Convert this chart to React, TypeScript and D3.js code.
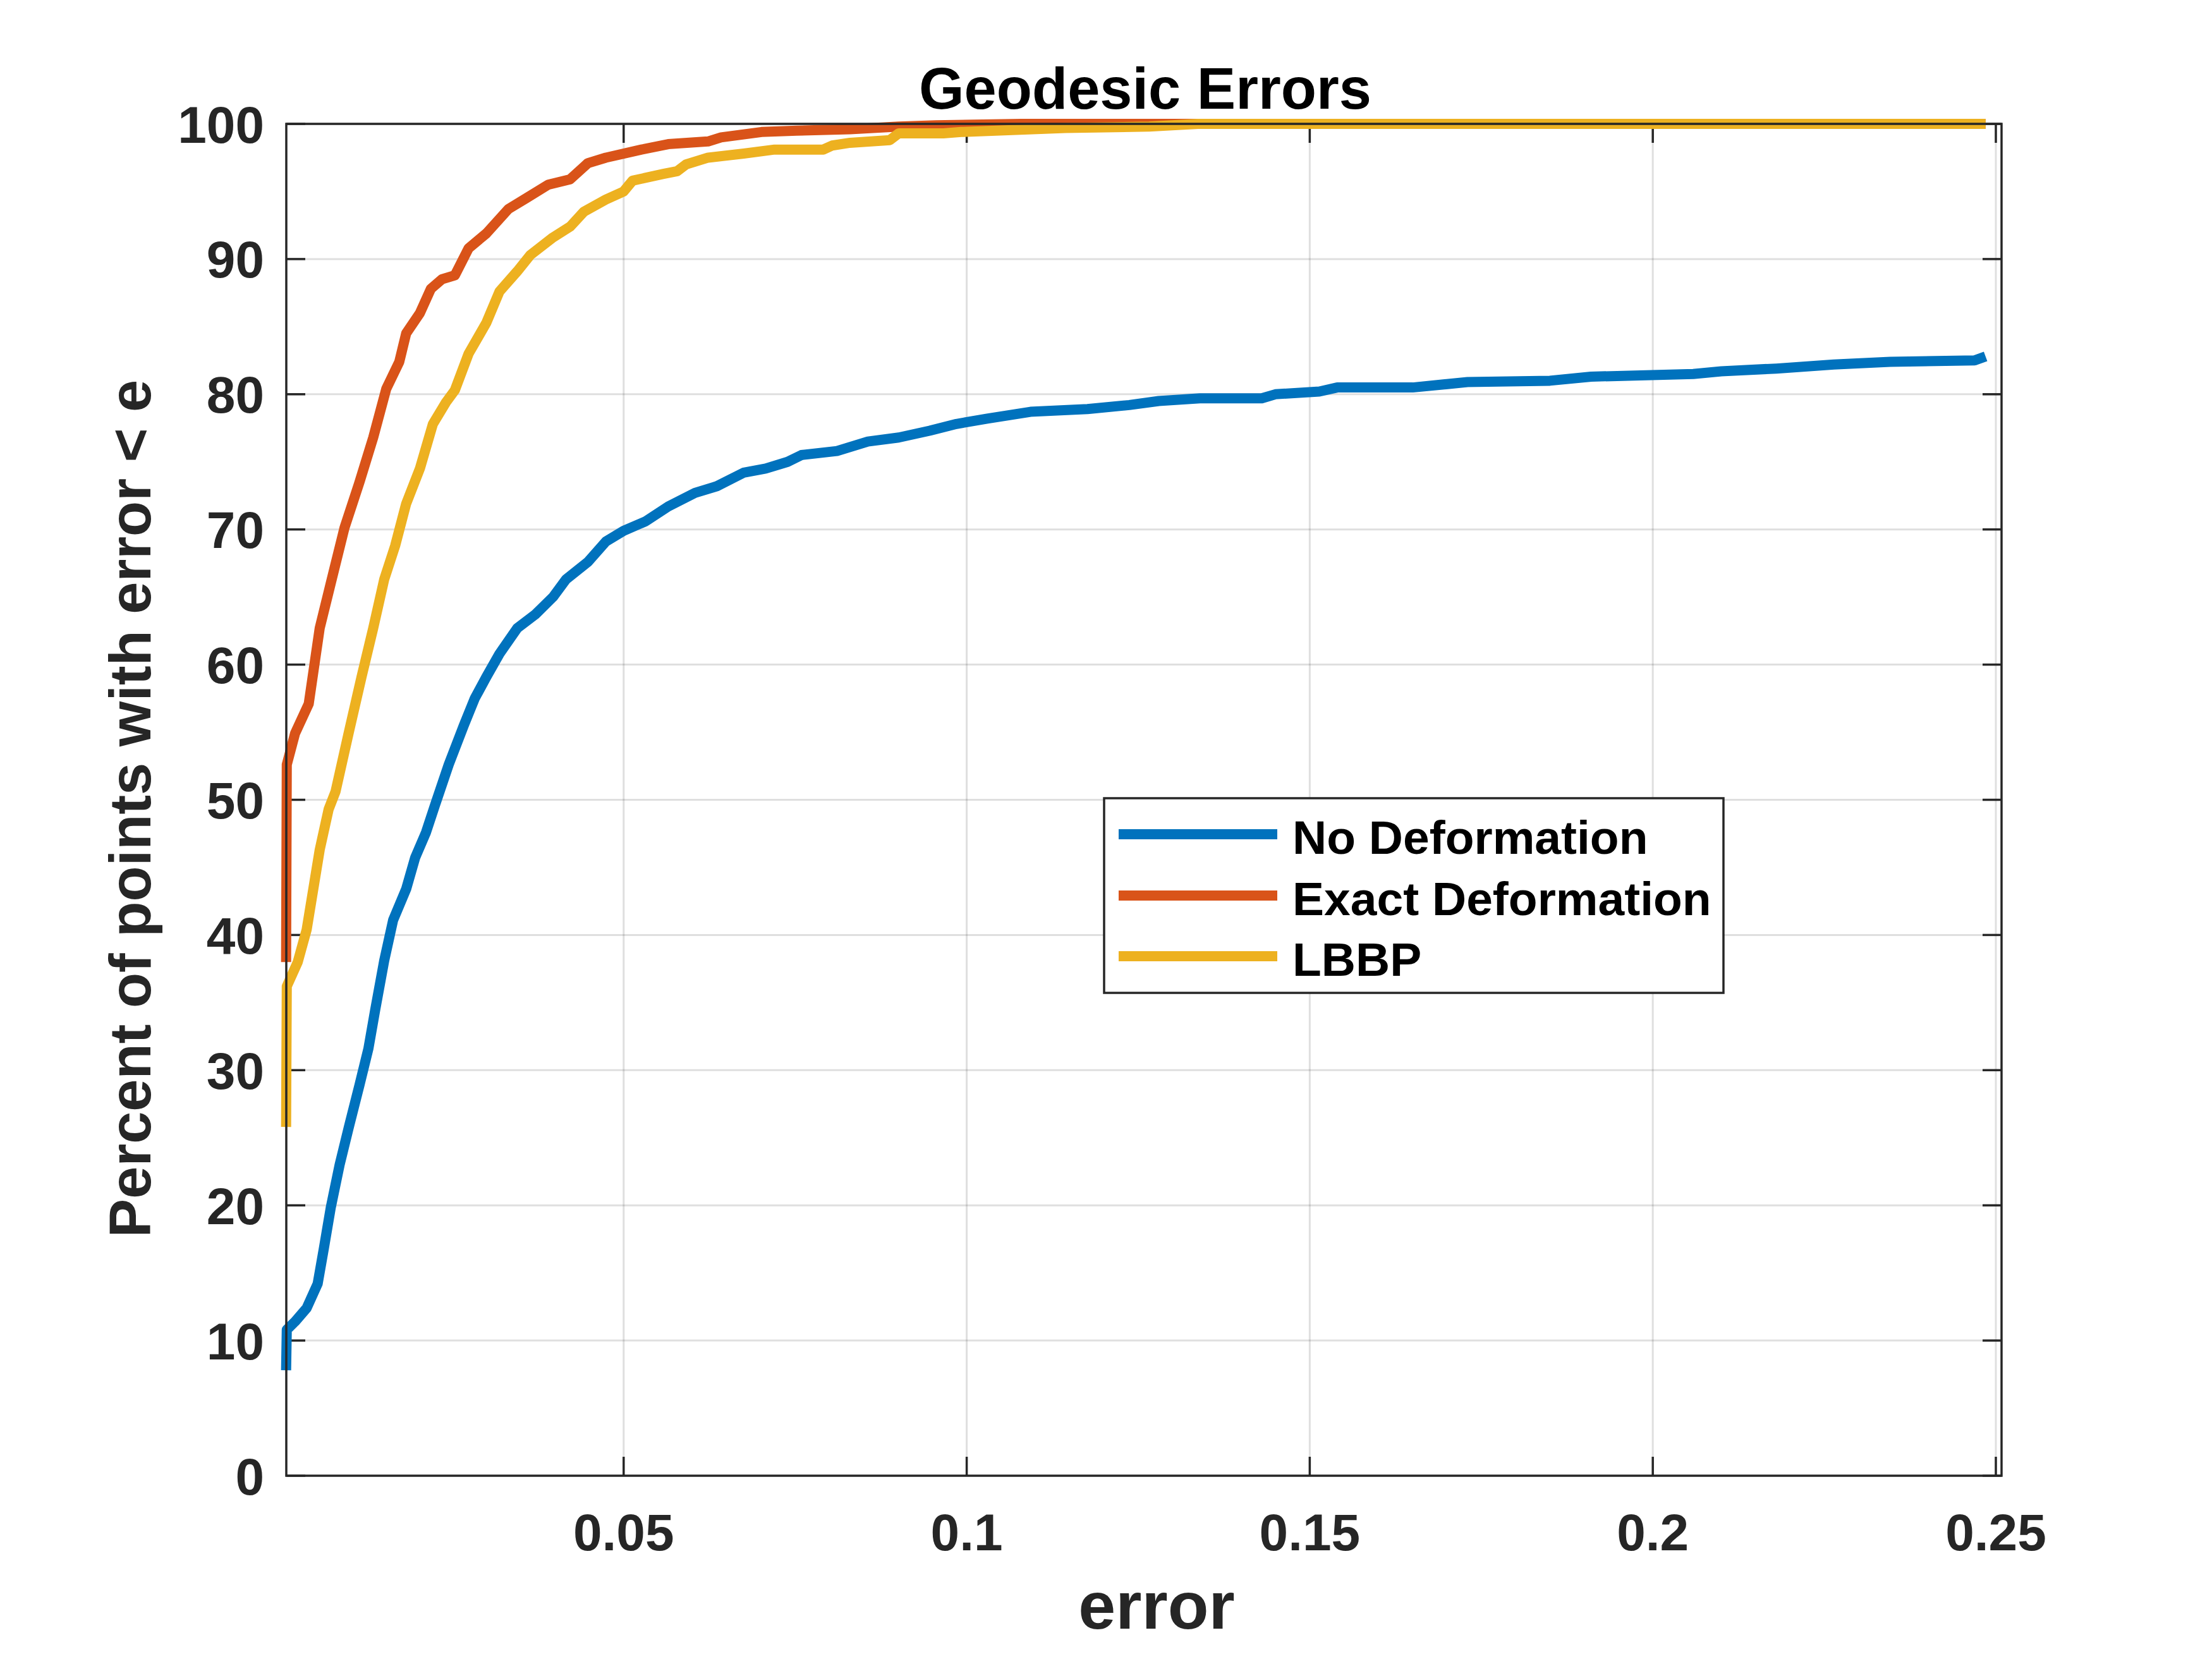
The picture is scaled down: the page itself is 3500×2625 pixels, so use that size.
import React, { useEffect } from 'react';
import * as d3 from 'd3';

// No Deformation
const noDefErr = [0.0008, 0.0009, 0.0021, 0.0038, 0.0054, 0.0063, 0.0073, 0.0086, 0.0099, 0.0115, 0.0128, 0.0138, 0.0151, 0.0164, 0.0183, 0.0196, 0.0212, 0.0225, 0.0245, 0.0267, 0.0283, 0.0300, 0.0319, 0.0345, 0.0371, 0.0397, 0.0416, 0.0448, 0.0474, 0.0500, 0.0532, 0.0565, 0.0604, 0.0636, 0.0675, 0.0707, 0.0739, 0.0759, 0.0811, 0.0856, 0.0901, 0.0946, 0.0985, 0.1030, 0.1093, 0.1176, 0.1237, 0.1280, 0.1340, 0.1430, 0.1450, 0.1514, 0.1540, 0.1650, 0.1730, 0.1850, 0.1910, 0.2059, 0.2100, 0.2180, 0.2264, 0.2346, 0.2469, 0.2485];
const noDefPct = [7.8, 10.8, 11.4, 12.4, 14.2, 16.8, 19.8, 23.0, 25.7, 28.9, 31.6, 34.5, 38.1, 41.1, 43.4, 45.7, 47.6, 49.6, 52.6, 55.5, 57.5, 59.1, 60.8, 62.7, 63.7, 65.0, 66.3, 67.6, 69.1, 69.9, 70.6, 71.7, 72.7, 73.2, 74.2, 74.5, 75.0, 75.5, 75.8, 76.5, 76.8, 77.3, 77.8, 78.2, 78.7, 78.9, 79.2, 79.5, 79.7, 79.7, 80.0, 80.2, 80.5, 80.5, 80.9, 81.0, 81.3, 81.5, 81.7, 81.9, 82.2, 82.4, 82.5, 82.8];

// Exact Deformation
const exactErr = [0.0008, 0.0009, 0.0021, 0.0041, 0.0057, 0.0073, 0.0093, 0.0115, 0.0135, 0.0154, 0.0173, 0.0183, 0.0203, 0.0219, 0.0235, 0.0254, 0.0274, 0.0300, 0.0332, 0.0358, 0.0390, 0.0422, 0.0448, 0.0474, 0.0526, 0.0565, 0.0623, 0.0642, 0.0701, 0.0752, 0.0830, 0.0901, 0.0955, 0.1080, 0.2485];
const exactPct = [38.0, 52.6, 54.9, 57.1, 62.7, 66.0, 70.1, 73.5, 76.8, 80.4, 82.4, 84.5, 86.0, 87.8, 88.5, 88.8, 90.8, 91.9, 93.7, 94.5, 95.5, 95.9, 97.1, 97.5, 98.1, 98.5, 98.7, 99.0, 99.4, 99.5, 99.6, 99.8, 99.9, 100, 100];

// LBBP
const lbbpErr = [0.0008, 0.0009, 0.0025, 0.0038, 0.0057, 0.0070, 0.0080, 0.0099, 0.0118, 0.0135, 0.0151, 0.0167, 0.0183, 0.0203, 0.0222, 0.0241, 0.0254, 0.0274, 0.0300, 0.0319, 0.0345, 0.0364, 0.0397, 0.0422, 0.0442, 0.0474, 0.0500, 0.0513, 0.0558, 0.0578, 0.0591, 0.0623, 0.0675, 0.0720, 0.0791, 0.0804, 0.0830, 0.0888, 0.0901, 0.0966, 0.0992, 0.1144, 0.1266, 0.1337, 0.2485];
const lbbpPct = [25.8, 36.2, 38.0, 40.4, 46.3, 49.3, 50.6, 54.9, 59.1, 62.7, 66.3, 68.8, 71.9, 74.5, 77.8, 79.4, 80.3, 83.0, 85.3, 87.6, 89.1, 90.3, 91.6, 92.4, 93.5, 94.4, 95.0, 95.8, 96.3, 96.5, 97.0, 97.5, 97.8, 98.1, 98.1, 98.4, 98.6, 98.8, 99.3, 99.3, 99.4, 99.7, 99.8, 100, 100];

const seriesNames = ['No Deformation', 'Exact Deformation', 'LBBP'];
const seriesColors = ['#0072BD', '#D95319', '#EDB120'];
const xTicks = [0.05, 0.1, 0.15, 0.2, 0.25];
const xTickLabels = ['0.05', '0.1', '0.15', '0.2', '0.25'];
const yTicks = [0, 10, 20, 30, 40, 50, 60, 70, 80, 90, 100];

const W = 3500;
const H = 2625;
const axL = 453, axR = 3167, axT = 196, axB = 2335;
const font = '"Liberation Sans", Arial, Helvetica, sans-serif';
const ink = '#262626';

export default function App() {
  useEffect(() => {
    document.body.style.margin = '0';
  }, []);

  const x = d3.scaleLinear().domain([0.00083, 0.25083]).range([axL, axR]);
  const y = d3.scaleLinear().domain([0, 100]).range([axB, axT]);

  const series = [
    { err: noDefErr, pct: noDefPct },
    { err: exactErr, pct: exactPct },
    { err: lbbpErr, pct: lbbpPct },
  ];

  const line = d3.line<[number, number]>()
    .x(d => x(d[0]))
    .y(d => y(d[1]));

  const tickLen = 30;
  const legX = 1747, legY = 1263, legW = 980, legH = 308;
  const legRowY = [1320, 1417, 1513];

  return (
    <svg width={W} height={H} style={{ display: 'block', background: '#fff' }} fontFamily={font} fontWeight="bold">
      <rect x={0} y={0} width={W} height={H} fill="#fff" />
      <rect x={axL} y={axT} width={axR - axL} height={axB - axT} fill="#fff" />

      {/* grid */}
      <g stroke={ink} strokeOpacity={0.15} strokeWidth={3}>
        {xTicks.map(t => (
          <line key={'gx' + t} x1={x(t)} x2={x(t)} y1={axT} y2={axB} />
        ))}
        {yTicks.map(t => (
          <line key={'gy' + t} x1={axL} x2={axR} y1={y(t)} y2={y(t)} />
        ))}
      </g>

      {/* ticks */}
      <g stroke={ink} strokeWidth={3.5}>
        {xTicks.map(t => (
          <g key={'tx' + t}>
            <line x1={x(t)} x2={x(t)} y1={axB} y2={axB - tickLen} />
            <line x1={x(t)} x2={x(t)} y1={axT} y2={axT + tickLen} />
          </g>
        ))}
        {yTicks.map(t => (
          <g key={'ty' + t}>
            <line x1={axL} x2={axL + tickLen} y1={y(t)} y2={y(t)} />
            <line x1={axR} x2={axR - tickLen} y1={y(t)} y2={y(t)} />
          </g>
        ))}
      </g>

      {/* data */}
      <g fill="none" strokeWidth={16} strokeLinejoin="round">
        {series.map((s, i) => (
          <path
            key={seriesNames[i]}
            d={line(s.err.map((e, j) => [e, s.pct[j]] as [number, number])) || ''}
            stroke={seriesColors[i]}
          />
        ))}
      </g>

      {/* box */}
      <rect x={axL} y={axT} width={axR - axL} height={axB - axT} fill="none" stroke={ink} strokeWidth={3.5} />

      {/* tick labels */}
      <g fill={ink} fontSize={82}>
        {xTicks.map((t, i) => (
          <text key={'lx' + t} x={x(t)} y={2453} textAnchor="middle">{xTickLabels[i]}</text>
        ))}
        {yTicks.map(t => (
          <text key={'ly' + t} x={418} y={y(t)} dy="0.36em" textAnchor="end">{t}</text>
        ))}
      </g>

      {/* labels */}
      <text x={1812} y={172} textAnchor="middle" fontSize={92} fill="#000">Geodesic Errors</text>
      <text x={1830} y={2577} textAnchor="middle" fontSize={106} fill={ink}>error</text>
      <text transform={`translate(238,${(axT + axB) / 2 + 14}) rotate(-90)`} textAnchor="middle" fontSize={92} fill={ink}>
        Percent of points with error &lt; e
      </text>

      {/* legend */}
      <rect x={legX} y={legY} width={legW} height={legH} fill="#fff" stroke={ink} strokeWidth={3.5} />
      {seriesNames.map((n, i) => (
        <g key={'leg' + n}>
          <line x1={1770} x2={2021} y1={legRowY[i]} y2={legRowY[i]} stroke={seriesColors[i]} strokeWidth={16} />
          <text x={2045} y={legRowY[i] + 31} fontSize={75} fill="#000">{n}</text>
        </g>
      ))}
    </svg>
  );
}
